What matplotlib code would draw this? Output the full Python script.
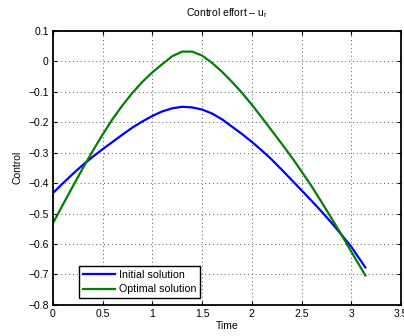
import matplotlib
matplotlib.use("Agg")
import matplotlib.pyplot as plt

plt.rcParams['font.family'] = ['Liberation Sans', 'DejaVu Sans']
plt.rcParams['mathtext.fontset'] = 'custom'
plt.rcParams['mathtext.rm'] = 'Liberation Sans'

# values
time = [0, 0.1, 0.2, 0.3, 0.4, 0.5, 0.6, 0.7, 0.8, 0.9, 1.0, 1.1, 1.2, 1.3, 1.4, 1.5,
        1.6, 1.7, 1.8, 1.9, 2.0, 2.1, 2.2, 2.3, 2.4, 2.5, 2.6, 2.7, 2.8, 2.9, 3.0, 3.1416]
initial = [-0.433, -0.401, -0.370, -0.341, -0.314, -0.289, -0.265, -0.241, -0.218, -0.198,
           -0.180, -0.165, -0.155, -0.150, -0.152, -0.159, -0.172, -0.191, -0.215, -0.239,
           -0.265, -0.293, -0.323, -0.356, -0.390, -0.424, -0.458, -0.493, -0.530, -0.569,
           -0.609, -0.677]
optimal = [-0.532, -0.471, -0.411, -0.352, -0.295, -0.241, -0.190, -0.145, -0.104, -0.068,
           -0.037, -0.010, 0.016, 0.031, 0.031, 0.018, -0.006, -0.035, -0.068, -0.104,
           -0.143, -0.185, -0.228, -0.271, -0.315, -0.362, -0.410, -0.462, -0.515, -0.569,
           -0.625, -0.703]

fig = plt.figure(figsize=(4.04, 3.36), dpi=100)
ax = fig.add_axes([0.131, 0.0923, 0.8616, 0.8167])

ax.plot(time, initial, color=(0, 0, 1), lw=1.6, label="Initial solution")
ax.plot(time, optimal, color=(0, 0.5, 0), lw=1.6, label="Optimal solution")

ax.set_xlim(0, 3.5)
ax.set_ylim(-0.8, 0.1)
ax.set_xticks([0, 0.5, 1, 1.5, 2, 2.5, 3, 3.5])
ax.set_xticklabels(["0", "0.5", "1", "1.5", "2", "2.5", "3", "3.5"])
ax.set_yticks([-0.8, -0.7, -0.6, -0.5, -0.4, -0.3, -0.2, -0.1, 0, 0.1])
ax.set_yticklabels(["\u22120.8", "\u22120.7", "\u22120.6", "\u22120.5", "\u22120.4",
                    "\u22120.3", "\u22120.2", "\u22120.1", "0", "0.1"])
ax.tick_params(direction="in", top=True, right=True, labelsize=7.5, length=3, width=0.8, pad=3)
ax.grid(True, linestyle=(0, (1, 3)), color="0.35", lw=0.7)
for s in ax.spines.values():
    s.set_linewidth(1.3)

ax.set_title("Control effort \u2013 u$_\\mathrm{r}$", fontsize=7.5, pad=10)
ax.set_xlabel("Time", fontsize=7.5, labelpad=1)
ax.set_ylabel("Control", fontsize=7.5, labelpad=4)

leg = ax.legend(loc="lower left", bbox_to_anchor=(0.075, 0.025), borderaxespad=0,
                fontsize=7.7, fancybox=False, edgecolor="black", framealpha=1,
                handlelength=3.0, borderpad=0.35, labelspacing=0.45, handletextpad=0.4)
leg.get_frame().set_linewidth(1.0)

fig.savefig("out.png", dpi=100)
